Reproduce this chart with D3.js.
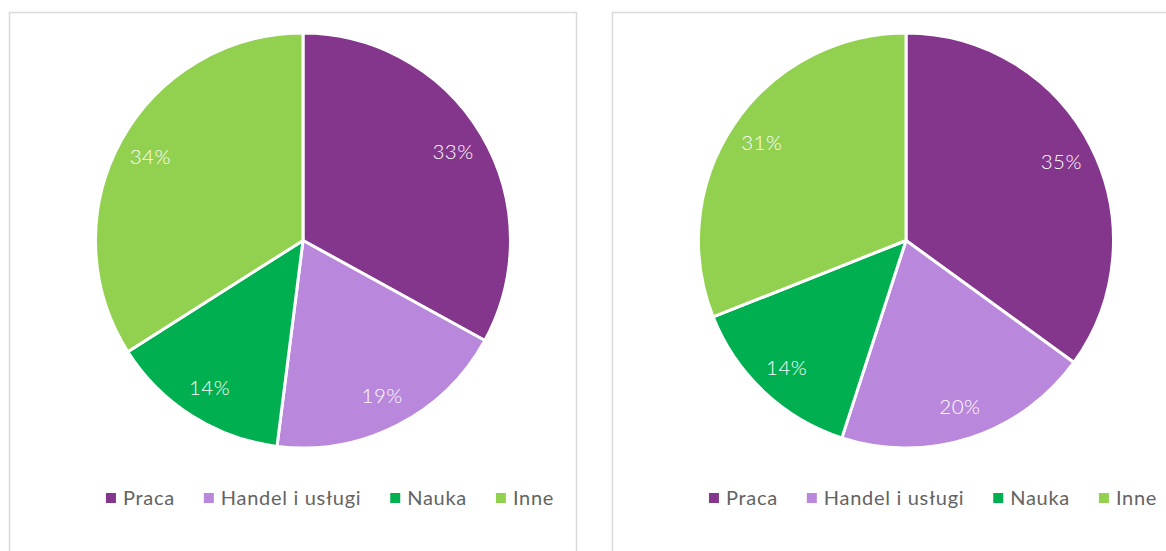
<!DOCTYPE html>
<html lang="pl">
<head>
<meta charset="UTF-8">
<title>Struktura</title>
<script src="https://d3js.org/d3.v7.min.js"></script>
<style>
  body { margin: 0; background: #fff; }
  svg { display: block; }
</style>
</head>
<body>
<svg id="chart" width="1166" height="551"></svg>
<script>
// dane
const categories = ["Praca", "Handel i usługi", "Nauka", "Inne"];
const valuesLeft = [33, 19, 14, 34];
const valuesRight = [35, 20, 14, 31];
const colors = ["#84368C", "#B987DB", "#00B050", "#92D050"];

const svg = d3.select("#chart");
const color = d3.scaleOrdinal().domain(categories).range(colors);

function drawPanel(x0, values) {
    const g = svg.append("g").attr("transform", `translate(${x0},0)`);

    // ramka wykresu
    g.append("rect")
        .attr("x", 0.5).attr("y", 12.5)
        .attr("width", 567).attr("height", 560)
        .attr("fill", "#fff")
        .attr("stroke", "#d9d9d9")
        .attr("stroke-width", 1.5);

    const cx = 294, cy = 240.5, r = 207.5;
    const data = categories.map((c, i) => ({ name: c, value: values[i] }));
    const pie = d3.pie().value(d => d.value).sort(null);
    const arc = d3.arc().innerRadius(0).outerRadius(r);
    const labelArc = d3.arc().innerRadius(r * 0.84).outerRadius(r * 0.84);
    const arcs = pie(data);

    const pg = g.append("g").attr("transform", `translate(${cx},${cy})`);
    pg.selectAll("path")
        .data(arcs)
        .join("path")
        .attr("d", arc)
        .attr("fill", d => color(d.data.name))
        .attr("stroke", "#fff")
        .attr("stroke-width", 3)
        .attr("stroke-linejoin", "round");

    pg.selectAll("text")
        .data(arcs)
        .join("text")
        .attr("transform", d => `translate(${labelArc.centroid(d)})`)
        .attr("text-anchor", "middle")
        .attr("dy", "0.36em")
        .attr("fill", "#fff")
        .style("font-family", "Lato, 'Open Sans', sans-serif")
        .style("font-weight", 300)
        .style("font-size", "20.5px")
        .style("letter-spacing", "0.5px")
        .text(d => d.data.value + "%");

    // legenda
    const lg = g.append("g");
    let x = 0;
    categories.forEach(c => {
        const it = lg.append("g").attr("transform", `translate(${x},0)`);
        it.append("rect")
            .attr("x", 0).attr("y", 493)
            .attr("width", 10).attr("height", 10)
            .attr("fill", color(c));
        const t = it.append("text")
            .attr("x", 17).attr("y", 504.5)
            .attr("fill", "#636363")
            .style("font-family", "Lato, 'Open Sans', sans-serif")
            .style("font-size", "20px")
            .style("letter-spacing", "0.7px")
            .text(c);
        const w = t.node().getComputedTextLength();
        x += 17 + w + 29;
    });
    const total = x - 29;
    lg.attr("transform", `translate(${cx + 27 - total / 2},0)`);
}

drawPanel(9, valuesLeft);
drawPanel(612, valuesRight);
</script>
</body>
</html>
